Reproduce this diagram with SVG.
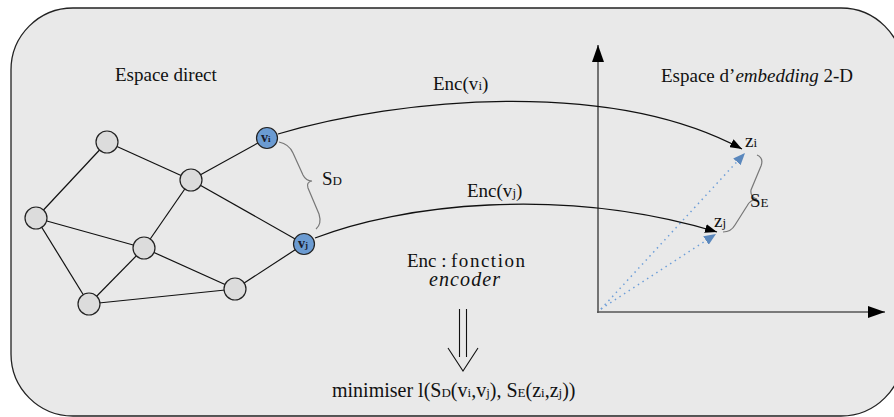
<svg xmlns="http://www.w3.org/2000/svg" width="894" height="417" viewBox="0 0 894 417">
<style>
.t{font-family:"Liberation Serif","Times New Roman",serif;font-size:19px;fill:#111}
.big{font-size:20px}
.sm{font-size:13px}
.edge{stroke:#111;stroke-width:1.2;fill:none}
.node{fill:#dcdcdc;stroke:#222;stroke-width:1.2}
.sel{fill:#6b9bd2;stroke:#222;stroke-width:1.2}
.nl{font-family:"Liberation Serif","Times New Roman",serif;font-size:14px;font-weight:bold;fill:#1a1a2a}
.brace{stroke:#777;stroke-width:1.2;fill:none}
.axis{stroke:#555;stroke-width:1.6;fill:none}
.dot{stroke:#6f9fd8;stroke-width:1.5;stroke-dasharray:1.5 4;fill:none}
.enc{stroke:#111;stroke-width:1.3;fill:none}
</style>
<defs>
<marker id="ah" viewBox="0 0 12 9" refX="12" refY="4.5" markerWidth="12" markerHeight="9" markerUnits="userSpaceOnUse" orient="auto"><path d="M0,0 L12,4.5 L0,9 z" fill="#000"/></marker>
<marker id="bh" viewBox="0 0 12 10" refX="12" refY="5" markerWidth="12" markerHeight="10" markerUnits="userSpaceOnUse" orient="auto"><path d="M0,0 L12,5 L0,10 z" fill="#5b88bd"/></marker>
<marker id="axh" viewBox="0 0 17 12" refX="17" refY="6" markerWidth="17" markerHeight="12" markerUnits="userSpaceOnUse" orient="auto"><path d="M0,0 L17,6 L0,12 z" fill="#000"/></marker>
</defs>
<rect id="frame" x="11" y="8" width="892" height="408" rx="62" ry="62" fill="#e9e9e9" stroke="#222" stroke-width="1.3"/>

<g id="connectors">
<line class="edge" x1="36" y1="218" x2="107" y2="142"/>
<line class="edge" x1="107" y1="142" x2="191" y2="180"/>
<line class="edge" x1="191" y1="180" x2="267" y2="138"/>
<line class="edge" x1="191" y1="180" x2="144" y2="248"/>
<line class="edge" x1="191" y1="180" x2="304" y2="244"/>
<line class="edge" x1="36" y1="218" x2="144" y2="248"/>
<line class="edge" x1="36" y1="218" x2="89" y2="304"/>
<line class="edge" x1="144" y1="248" x2="89" y2="304"/>
<line class="edge" x1="144" y1="248" x2="235" y2="289"/>
<line class="edge" x1="89" y1="304" x2="235" y2="289"/>
<line class="edge" x1="235" y1="289" x2="304" y2="244"/>
<path class="brace" d="M279,142 Q289,144 293,153 L303,175 Q306,181 312,181 Q306,182 308,188 L319,214 Q322,224 316,229"/>
<path class="brace" d="M757,155 Q764,158 761,166 L751,190 Q750,197 757,199 Q750,200 747,206 L735,225 Q731,232 723,232"/>
<line class="axis" x1="598" y1="313" x2="598" y2="45" marker-end="url(#axh)"/>
<line class="axis" x1="597" y1="312" x2="885" y2="312" marker-end="url(#axh)"/>
<line class="dot" x1="601" y1="309" x2="745" y2="153" marker-end="url(#bh)"/>
<line class="dot" x1="601" y1="309" x2="716" y2="234" marker-end="url(#bh)"/>
<path class="enc" d="M278,134 C400,98 610,78 742,149" marker-end="url(#ah)"/>
<path class="enc" d="M315,238 C400,205 560,185 717,232" marker-end="url(#ah)"/>
<g id="implies" stroke="#111" stroke-width="1.1" fill="none">
<line x1="459.5" y1="309" x2="459.5" y2="357"/>
<line x1="466.5" y1="309" x2="466.5" y2="357"/>
<path d="M448,348 L463,371 L478,348"/>
</g>
</g>

<g id="n1"><circle class="node" cx="107" cy="142" r="11"/></g>
<g id="n2"><circle class="node" cx="191" cy="180" r="11"/></g>
<g id="n3"><circle class="node" cx="36" cy="218" r="11"/></g>
<g id="n4"><circle class="node" cx="144" cy="248" r="11"/></g>
<g id="n5"><circle class="node" cx="89" cy="304" r="11"/></g>
<g id="n6"><circle class="node" cx="235" cy="289" r="11"/></g>
<g id="vi"><circle class="sel" cx="267" cy="138" r="10.5"/><text class="nl" x="261" y="142">v<tspan font-size="9">i</tspan></text></g>
<g id="vj"><circle class="sel" cx="304" cy="244" r="10.5"/><text class="nl" x="298" y="248">v<tspan font-size="9">j</tspan></text></g>

<g id="labels">
<text class="t" x="115" y="81">Espace direct</text>
<text class="t" x="661" y="82">Espace d’<tspan font-style="italic">embedding</tspan> 2-D</text>
<text class="t" x="433" y="90">Enc(v<tspan class="sm">i</tspan>)</text>
<text class="t" x="467" y="197">Enc(v<tspan class="sm">j</tspan>)</text>
<text class="t" x="322" y="185">S<tspan class="sm">D</tspan></text>
<text class="t" x="750" y="207">S<tspan class="sm">E</tspan></text>
<text class="t" x="745" y="147">z<tspan class="sm">i</tspan></text>
<text class="t" x="714" y="227">z<tspan class="sm">j</tspan></text>
<text class="t" x="407" y="267">Enc :</text>
<text class="t" x="451" y="267" textLength="74">fonction</text>
<text class="t big" x="429" y="286" font-style="italic" textLength="71">encoder</text>
<text class="t big" x="332" y="397">minimiser l(S<tspan class="sm">D</tspan>(v<tspan class="sm">i</tspan>,v<tspan class="sm">j</tspan>), S<tspan class="sm">E</tspan>(z<tspan class="sm">i</tspan>,z<tspan class="sm">j</tspan>))</text>
</g>
</svg>
